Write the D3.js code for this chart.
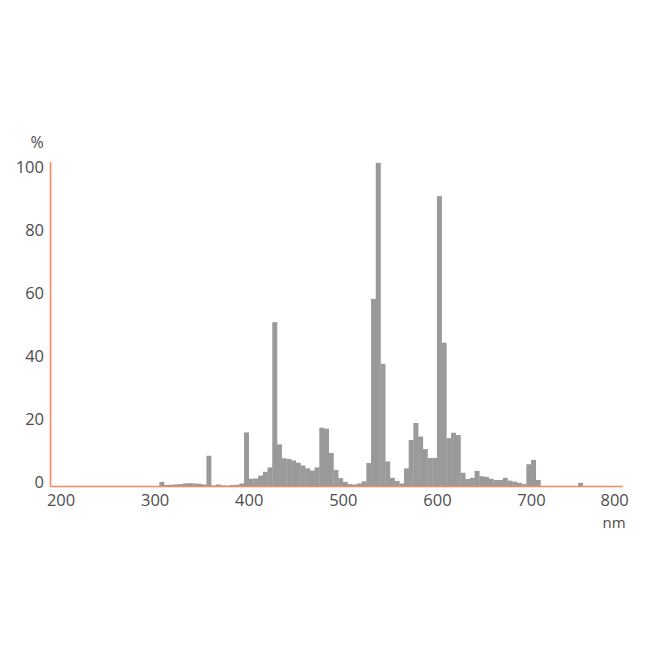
<!DOCTYPE html>
<html>
<head>
<meta charset="utf-8">
<script src="https://cdn.jsdelivr.net/npm/d3@7/dist/d3.min.js"></script>
<style>
  html, body { margin: 0; padding: 0; background: #ffffff; }
  svg { display: block; }
  text { font-family: "Open Sans", "Noto Sans", sans-serif; }
</style>
</head>
<body>
<svg id="chart" width="650" height="650"></svg>
<script>
// Bin start wavelength (nm), each bin 5 nm wide
const wavelengths = [305,310,315,320,325,330,335,340,345,350,355,360,365,370,375,380,385,390,395,400,
  405,410,415,420,425,430,435,440,445,450,455,460,465,470,475,480,485,490,495,500,
  505,510,515,520,525,530,535,540,545,550,555,560,565,570,575,580,585,590,595,600,
  605,610,615,620,625,630,635,640,645,650,655,660,665,670,675,680,685,690,695,700,
  705,750];
// Relative intensity (%)
const intensities = [1.3,0.3,0.4,0.5,0.6,0.8,0.9,0.8,0.7,0.5,9.6,0.2,0.5,0.2,0.1,0.3,0.4,0.8,17.0,2.3,
  2.4,3.3,4.5,5.9,52.0,13.2,8.8,8.6,8.1,7.4,6.5,5.6,4.9,5.9,18.5,18.2,10.5,5.1,2.5,1.3,
  0.6,0.5,0.8,1.5,7.3,59.4,102.6,38.8,7.8,2.6,1.6,0.8,5.6,14.6,20.0,15.7,11.7,8.9,8.9,92.0,
  45.5,15.2,16.9,16.2,4.2,2.2,2.6,4.8,3.1,2.9,2.3,1.9,1.9,2.6,1.7,1.4,1.0,0.6,6.9,8.3,
  1.9,1.0];
const binWidth = 5;
const xTicks = [200,300,400,500,600,700,800];
const yTicks = [0,20,40,60,80,100];
const xUnit = "nm";
const yUnit = "%";

const barColor = "#9a9a9a";
const axisColor = "#f28a5f";
const textColor = "#4d4d4d";

const svg = d3.select("#chart");

const x = d3.scaleLinear().domain([188.8, 797]).range([50, 622.3]);
const y = d3.scaleLinear().domain([0, 103]).range([486, 161.5]);

const data = wavelengths.map((w, i) => ({ w, v: intensities[i] }));

svg.append("g")
  .selectAll("rect")
  .data(data)
  .join("rect")
  .attr("x", d => x(d.w))
  .attr("y", d => y(d.v))
  .attr("width", d => x(d.w + binWidth) - x(d.w) + 0.3)
  .attr("height", d => y(0) - y(d.v))
  .attr("fill", barColor);

// X axis
const gx = svg.append("g")
  .attr("transform", `translate(0,${y(0)})`)
  .call(d3.axisBottom(x).tickValues(xTicks).tickSize(0).tickPadding(8).tickFormat(d3.format("d")));
gx.select(".domain").attr("stroke", axisColor).attr("stroke-width", 1.6);
gx.selectAll("text").attr("fill", textColor).attr("font-size", 16.5)
  .attr("dx", d => d === 800 ? -11 : 0);

// Y axis
const gy = svg.append("g")
  .attr("transform", `translate(${x.range()[0]},0)`)
  .call(d3.axisLeft(y).tickValues(yTicks).tickSize(0).tickPadding(6).tickFormat(d3.format("d")));
gy.select(".domain").attr("stroke", axisColor).attr("stroke-width", 1.6);
gy.selectAll("text").attr("fill", textColor).attr("font-size", 16.5).attr("transform", "translate(0,-4)");

// Unit labels
svg.append("text")
  .attr("x", 37).attr("y", 148)
  .attr("text-anchor", "middle")
  .attr("fill", textColor).attr("font-size", 16)
  .text(yUnit);

svg.append("text")
  .attr("x", 614).attr("y", 528)
  .attr("text-anchor", "middle")
  .attr("fill", textColor).attr("font-size", 15)
  .text(xUnit);
</script>
</body>
</html>
